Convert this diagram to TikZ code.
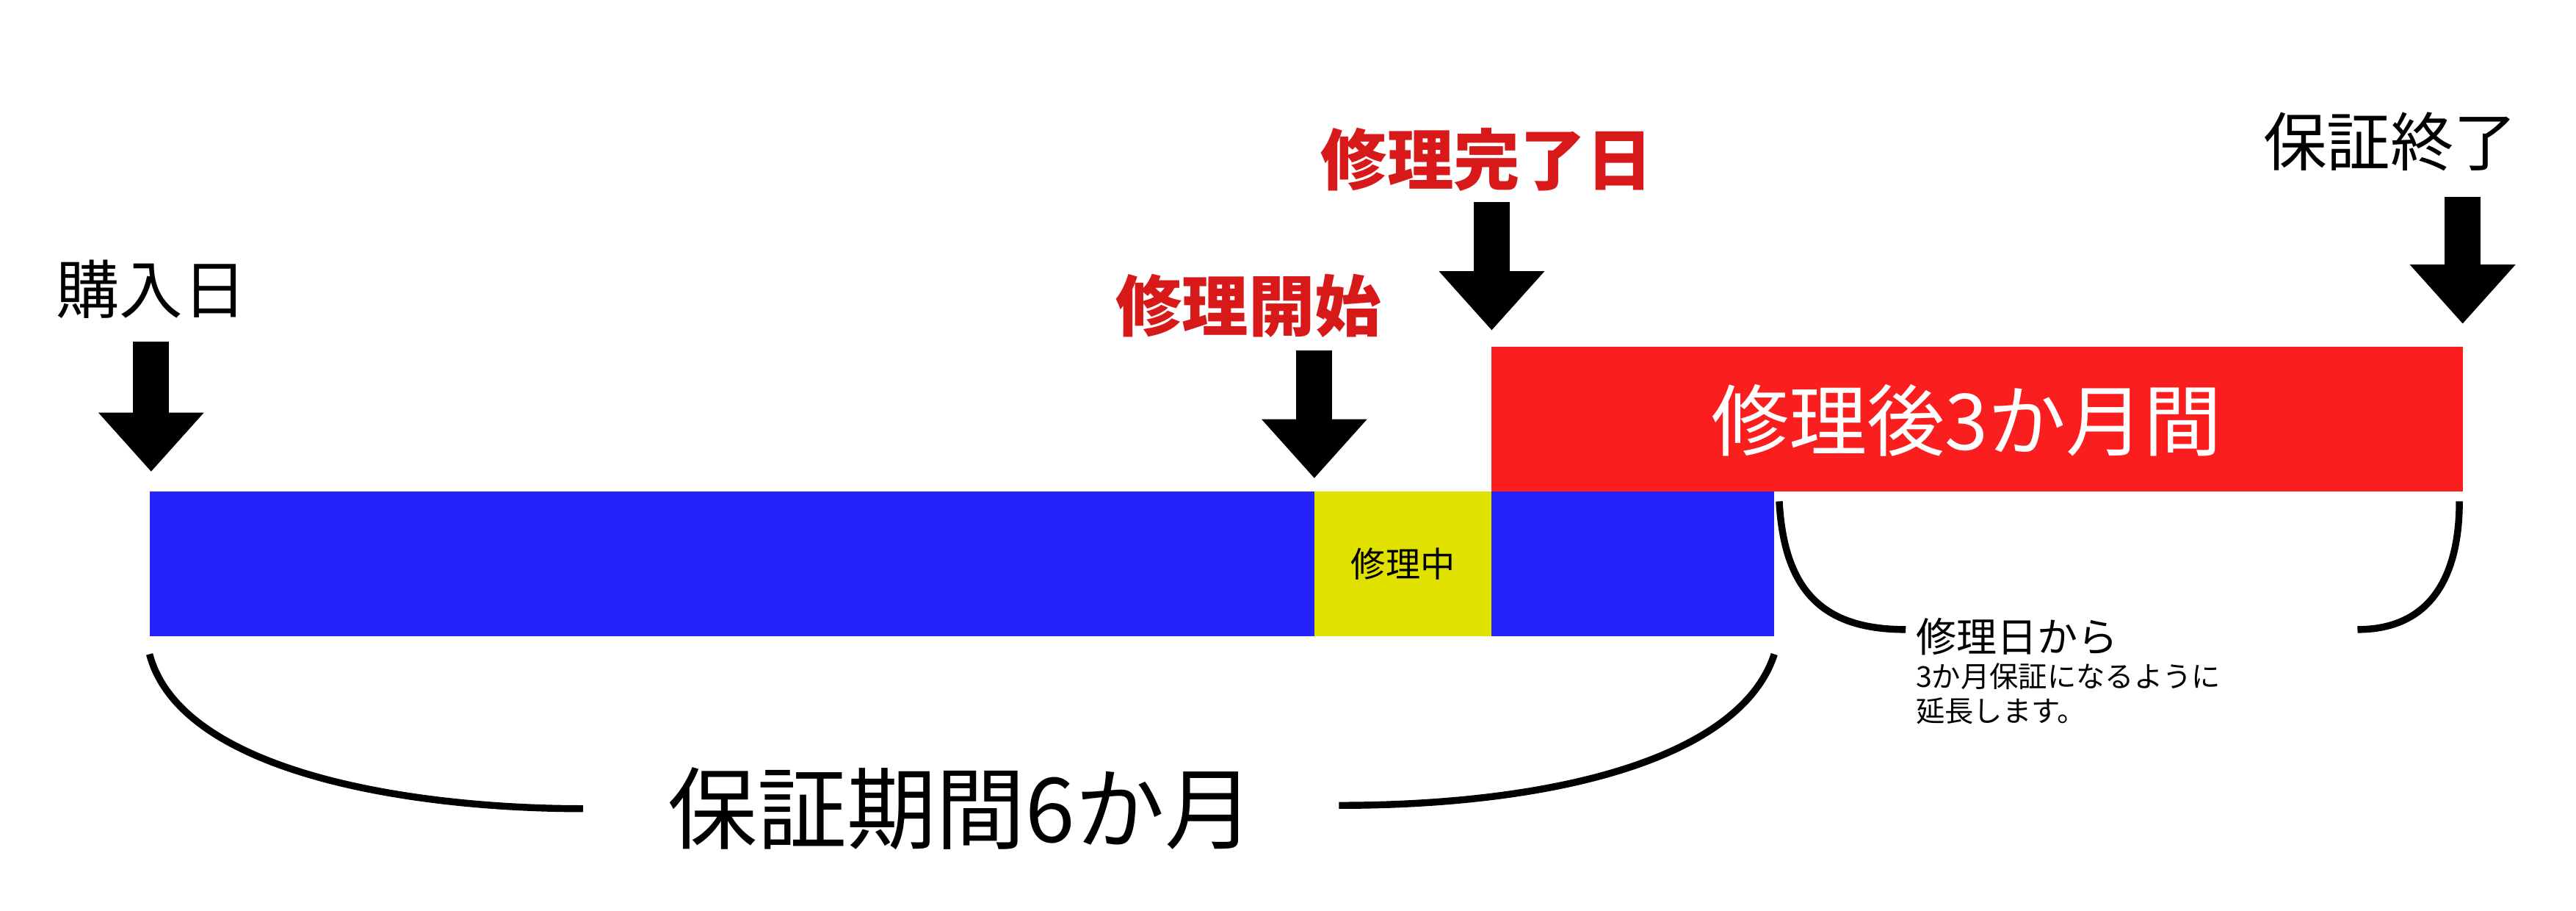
\documentclass[tikz,border=0pt]{standalone}
\usepackage{fontspec}
\setmainfont{Noto Sans CJK JP}
\usetikzlibrary{arrows.meta}
\definecolor{barblue}{RGB}{35,35,250}
\definecolor{baryellow}{RGB}{225,225,0}
\definecolor{barred}{RGB}{250,30,30}
\definecolor{labelred}{RGB}{215,25,25}

\tikzset{
  bigarrow/.style={line width=0.44cm, -{Triangle[width=1.24cm,length=0.72cm]}},
  brace/.style={line width=2.4pt},
  redlabel/.style={text=labelred, font=\bfseries\fontsize{23}{26}\selectfont},
  blacklabel/.style={font=\fontsize{22}{25}\selectfont}
}

\begin{document}
\begin{tikzpicture}[x=0.02cm, y=-0.02cm]
    \useasboundingbox (0,0) rectangle (1568,554);

    % bars
    \fill[barblue] (91,299) rectangle (1080,387);
    \fill[baryellow] (800,299) rectangle (908,387);
    \fill[barred] (908,211) rectangle (1499,299);
    \node (mid) at (854,343) {\fontsize{12}{14}\selectfont 修理中};
    \node[text=white] (after) at (1197,256) {\fontsize{27}{30}\selectfont 修理後3か月間};

    % labels
    \node[blacklabel] (buy) at (92,176) {購入日};
    \node[redlabel] (start) at (760,186) {修理開始};
    \node[redlabel] (done) at (905,97) {修理完了日};
    \node[blacklabel] (end) at (1455,86) {保証終了};

    % arrows
    \draw[bigarrow] (92,208) -- (92,287);
    \draw[bigarrow] (800,213) -- (800,291);
    \draw[bigarrow] (908,123) -- (908,201);
    \draw[bigarrow] (1499,120) -- (1499,197);

    % braces
    \draw[brace] (91,398) .. controls (110,470) and (250,492) .. (355,492);
    \draw[brace] (815,490) .. controls (950,490) and (1060,460) .. (1080,398);
    \node (period) at (585,492) {\fontsize{31}{34}\selectfont 保証期間6か月};
    \draw[brace] (1083,305) .. controls (1086,360) and (1110,383) .. (1160,383);
    \draw[brace] (1435,383) .. controls (1480,383) and (1497,350) .. (1497,305);
    \node[anchor=north west, align=left] (note) at (1160,370)
      {\fontsize{14}{19}\selectfont 修理日から\\3か月保証になるように\\延長します。};
\end{tikzpicture}
\end{document}
